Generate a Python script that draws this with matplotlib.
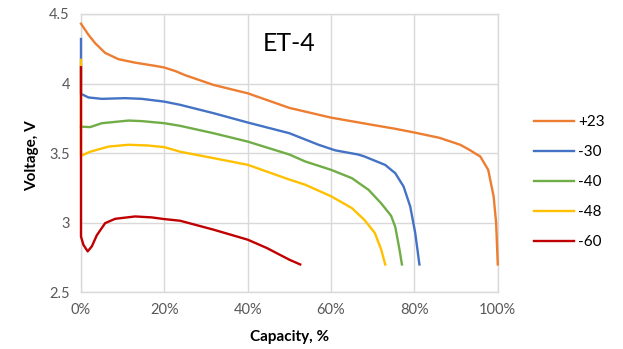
import matplotlib
matplotlib.use("Agg")
import matplotlib.pyplot as plt
from matplotlib.ticker import FuncFormatter

# Series data (capacity %, voltage V)
cap_p23 = [0, 1.8, 3.4, 5.8, 9, 13, 17.8, 20, 22.6, 25, 31.8, 40, 50, 60, 70.5,
           75.4, 80, 86, 91, 93.4, 95, 95.8, 97.7, 99, 99.6, 100]
v_p23 = [4.43, 4.35, 4.29, 4.22, 4.175, 4.15, 4.127, 4.115, 4.09, 4.06, 3.99,
         3.93, 3.825, 3.755, 3.70, 3.675, 3.648, 3.61, 3.56, 3.52, 3.49, 3.476,
         3.38, 3.19, 3.0, 2.70]

cap_m30 = [0, 0, 1.8, 5, 10.6, 14.6, 20, 23.8, 31.8, 40, 50, 57, 61, 66.5, 68,
           73, 74, 75.4, 77.4, 79, 80.2, 81.2]
v_m30 = [4.32, 3.926, 3.90, 3.89, 3.895, 3.89, 3.87, 3.847, 3.787, 3.72, 3.643,
         3.56, 3.52, 3.49, 3.476, 3.415, 3.39, 3.356, 3.26, 3.116, 2.925, 2.70]

cap_m40 = [0, 2.2, 5, 11.4, 14.6, 20, 23.8, 31.8, 40, 50, 53.8, 60, 65, 69, 72,
           74.4, 75.4, 76.4, 77]
v_m40 = [3.69, 3.687, 3.715, 3.734, 3.73, 3.715, 3.696, 3.643, 3.583, 3.49,
         3.44, 3.38, 3.32, 3.236, 3.14, 3.05, 2.97, 2.81, 2.70]

cap_m48 = [0, 0, 2.2, 6.6, 11.4, 16, 20, 23.8, 31.8, 40, 50, 53.8, 60, 65, 68,
           70.5, 72, 73]
v_m48 = [4.17, 3.48, 3.51, 3.547, 3.56, 3.555, 3.543, 3.51, 3.464, 3.416, 3.31,
         3.273, 3.19, 3.105, 3.02, 2.926, 2.81, 2.70]

cap_m60 = [0, 0, 0.6, 1.6, 2.6, 3.8, 5.8, 8.2, 13, 17, 20, 23.8, 31.8, 40, 44.6,
           50, 52.6]
v_m60 = [4.117, 2.90, 2.84, 2.794, 2.83, 2.91, 2.997, 3.028, 3.045, 3.038,
         3.026, 3.014, 2.95, 2.878, 2.818, 2.734, 2.70]

labels = ["+23", "-30", "-40", "-48", "-60"]
colors = ["#ED7D31", "#4472C4", "#70AD47", "#FFC000", "#C00000"]

x_ticks = [0, 20, 40, 60, 80, 100]
y_ticks = [2.5, 3, 3.5, 4, 4.5]

plt.rcParams["font.family"] = ["Lato", "DejaVu Sans"]

fig = plt.figure(figsize=(6.23, 3.49), dpi=100)
ax = fig.add_axes([0.130, 0.1625, 0.669, 0.7975])

series = [(cap_p23, v_p23), (cap_m30, v_m30), (cap_m40, v_m40),
          (cap_m48, v_m48), (cap_m60, v_m60)]
for (c, v), lab, col in zip(series, labels, colors):
    # lines at 0% sit on the axis, so draw them unclipped and above the spines
    ax.plot(c, v, color=col, lw=1.7, label=lab, solid_joinstyle="round",
            clip_on=False, zorder=3)

ax.set_xlim(0, 100)
ax.set_ylim(2.5, 4.5)
ax.set_xticks(x_ticks)
ax.set_yticks(y_ticks)
ax.xaxis.set_major_formatter(FuncFormatter(lambda x, p: f"{x:.0f}%"))
ax.yaxis.set_major_formatter(FuncFormatter(lambda y, p: f"{y:g}"))
ax.grid(True, color="#D9D9D9", lw=1)
ax.set_axisbelow(True)
ax.tick_params(length=0, labelsize=10.5, colors="#595959", pad=8)
for s in ax.spines.values():
    s.set_color("#D9D9D9")
    s.set_linewidth(1)

fig.text(0.051, 0.555, "Voltage, V", rotation=90, ha="center", va="center",
         fontsize=11, fontweight="bold")
fig.text(0.464, 0.034, "Capacity, %", ha="center", va="center",
         fontsize=11, fontweight="bold")
fig.text(0.464, 0.874, "ET-4", ha="center", va="center", fontsize=18)

fig.legend(loc="center left", bbox_to_anchor=(0.835, 0.478), frameon=False,
           fontsize=11, handlelength=2.6, labelspacing=1.05, handletextpad=0.3)

fig.savefig("out.png", dpi=100)
